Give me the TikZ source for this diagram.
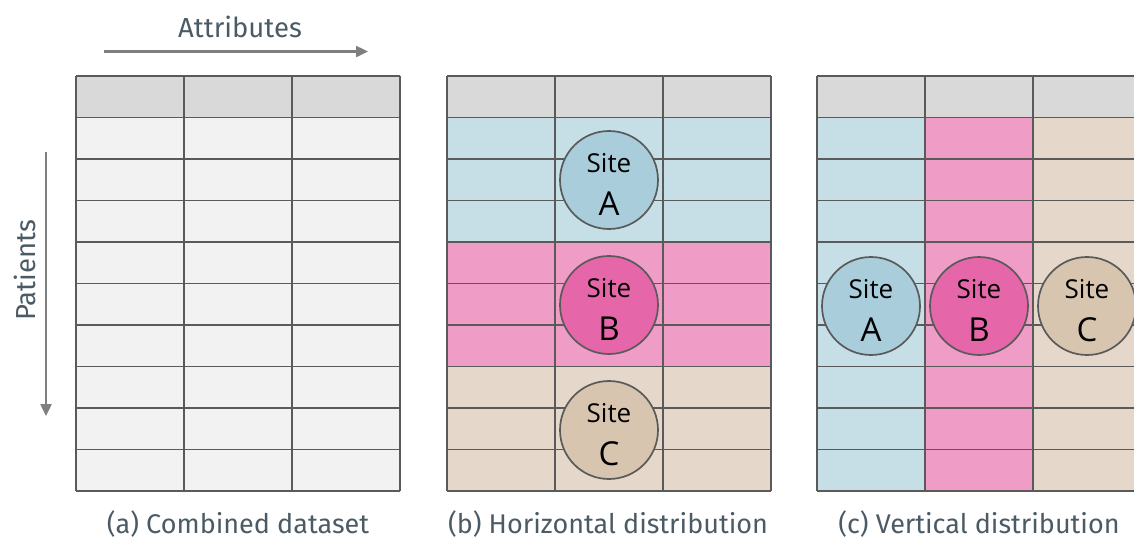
\documentclass[tikz,border=0pt]{standalone}
\usepackage{fontspec}
\setmainfont{Fira Sans}
\newfontfamily\sitefont{Open Sans}
\usetikzlibrary{arrows.meta}

\definecolor{gridline}{HTML}{5A5A5A}
\definecolor{headfill}{HTML}{D9D9D9}
\definecolor{plainfill}{HTML}{F2F2F2}
\definecolor{bluefill}{HTML}{C6DFE6}
\definecolor{pinkfill}{HTML}{EF9CC7}
\definecolor{tanfill}{HTML}{E5D8CB}
\definecolor{bluesite}{HTML}{A9CDDA}
\definecolor{pinksite}{HTML}{E667A9}
\definecolor{tansite}{HTML}{D8C5AF}
\definecolor{labeltext}{HTML}{4B5B66}
\definecolor{arrowgray}{HTML}{7F7F7F}

\tikzset{
  gridpen/.style={draw=gridline, line width=1.7pt},
  sitecircle/.style={circle, draw=gridline, line width=1.7pt, minimum size=98pt, inner sep=0pt},
  sitesmall/.style={anchor=base, inner sep=0pt, font=\sitefont\fontsize{26}{30}\selectfont},
  sitebig/.style={anchor=base, inner sep=0pt, font=\sitefont\fontsize{33}{38}\selectfont},
  caption/.style={text=labeltext, inner sep=0pt, anchor=base, font=\fontsize{27}{32}\selectfont},
  axislabel/.style={text=labeltext, inner sep=0pt, anchor=base, font=\fontsize{27.5}{32}\selectfont},
  axisarrow/.style={draw=arrowgray, line width=2.4pt, -{Triangle[length=12pt,width=11pt]}},
}

% lines of a 3 x 10 table whose top left corner is (#1,76)
\newcommand\tablegrid[1]{%
  \foreach \r in {0,...,10} \draw[gridpen] (#1,76+41.5*\r) -- (#1+324,76+41.5*\r);
  \foreach \c in {0,...,3} \draw[gridpen] (#1+108*\c,76) -- (#1+108*\c,491);
}

\newcommand\sitelabel[2]{%
  \node[sitesmall] at ([yshift=8pt]#1.center) {Site};
  \node[sitebig] at ([yshift=-35pt]#1.center) {#2};
}

\begin{document}
\begin{tikzpicture}[x=1pt, y=-1pt]
\useasboundingbox (0,0) rectangle (1134,539);
\clip (0,0) rectangle (1134,539);

% ---------- (a) combined dataset ----------
\fill[headfill] (76,76) rectangle (400,117.5);
\fill[plainfill] (76,117.5) rectangle (400,491);
\tablegrid{76}

% ---------- (b) horizontal distribution ----------
\fill[headfill] (447,76) rectangle (771,117.5);
\fill[bluefill] (447,117.5) rectangle (771,242);
\fill[pinkfill] (447,242) rectangle (771,366.5);
\fill[tanfill] (447,366.5) rectangle (771,491);
\tablegrid{447}

% ---------- (c) vertical distribution ----------
\fill[headfill] (817,76) rectangle (1141,117.5);
\fill[bluefill] (817,117.5) rectangle (925,491);
\fill[pinkfill] (925,117.5) rectangle (1033,491);
\fill[tanfill] (1033,117.5) rectangle (1141,491);
\tablegrid{817}

% ---------- sites ----------
\node[sitecircle, fill=bluesite] (hA) at (609,180) {};
\node[sitecircle, fill=pinksite] (hB) at (609,305) {};
\node[sitecircle, fill=tansite]  (hC) at (609,430) {};
\sitelabel{hA}{A}
\sitelabel{hB}{B}
\sitelabel{hC}{C}

\node[sitecircle, fill=bluesite] (vA) at (871,306) {};
\node[sitecircle, fill=pinksite] (vB) at (979,306) {};
\node[sitecircle, fill=tansite]  (vC) at (1087,306) {};
\sitelabel{vA}{A}
\sitelabel{vB}{B}
\sitelabel{vC}{C}

% ---------- axes ----------
\coordinate (attrStart) at (104,51.5);
\coordinate (attrEnd) at (368,51.5);
\draw[axisarrow] (attrStart) -- (attrEnd);
\node[axislabel] (attr) at (240,37) {Attributes};

\coordinate (patStart) at (46,152);
\coordinate (patEnd) at (46,416);
\draw[axisarrow] (patStart) -- (patEnd);
\node[axislabel, rotate=90] (pat) at (35,270) {Patients};

% ---------- captions ----------
\node[caption] (capA) at (238,533) {(a) Combined dataset};
\node[caption] (capB) at (608,533) {(b) Horizontal distribution};
\node[caption] (capC) at (979,533) {(c) Vertical distribution};
\end{tikzpicture}
\end{document}
